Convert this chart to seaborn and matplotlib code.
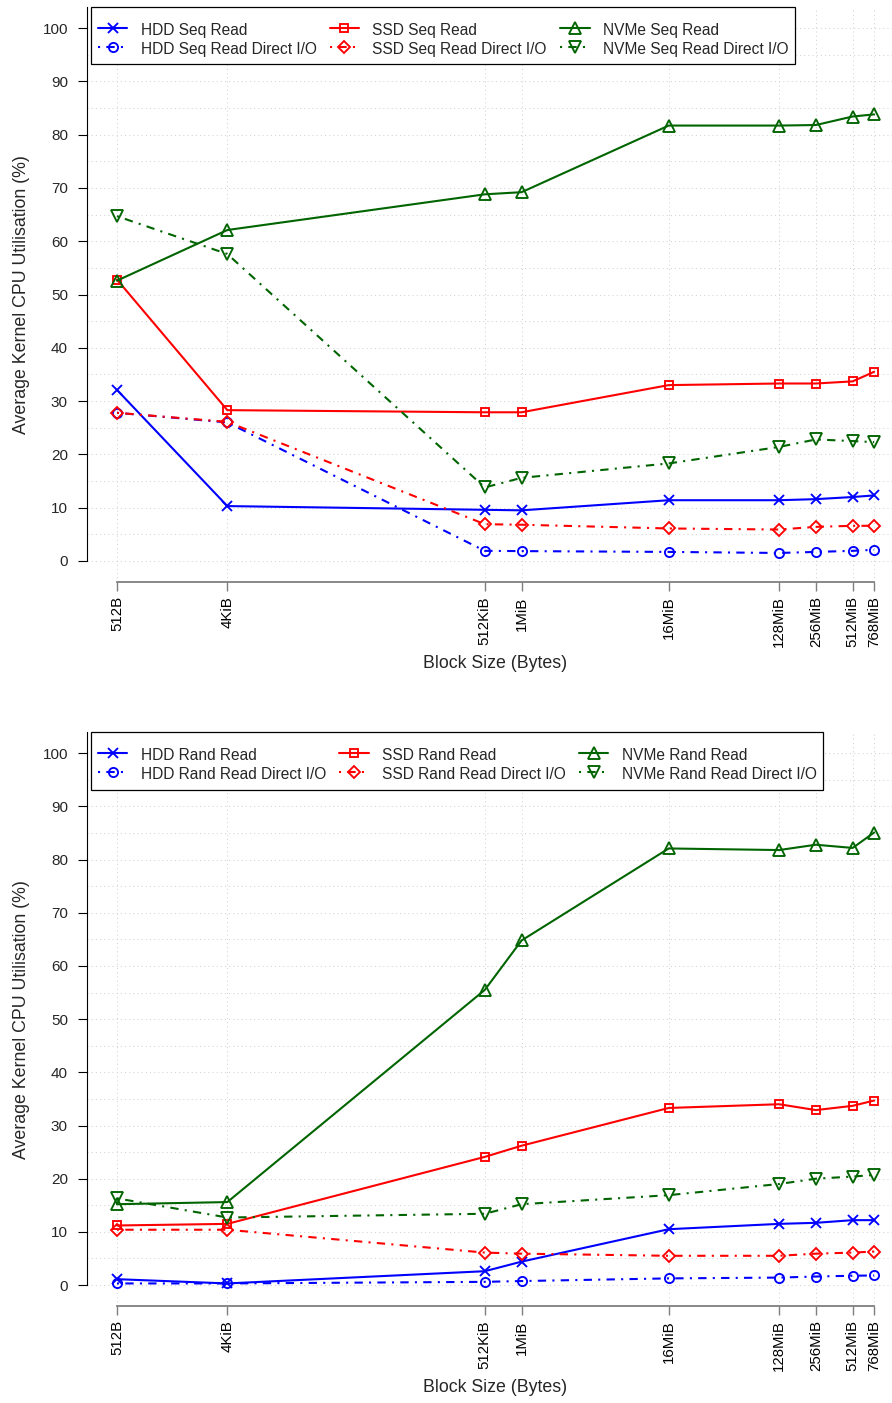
import numpy as np
import pandas as pd
import matplotlib
matplotlib.use("Agg")
import matplotlib.pyplot as plt
from matplotlib.ticker import NullLocator
import seaborn as sns

# ---------------- data ----------------
block_sizes = [512, 4096, 524288, 1048576, 16777216, 134217728,
               268435456, 536870912, 805306368]
block_labels = ["512B", "4KiB", "512KiB", "1MiB", "16MiB", "128MiB",
                "256MiB", "512MiB", "768MiB"]

hdd_seq = [32.1, 10.3, 9.6, 9.5, 11.4, 11.4, 11.6, 12.0, 12.3]
hdd_seq_direct = [27.8, 26.0, 1.9, 1.85, 1.7, 1.5, 1.7, 1.9, 2.1]
ssd_seq = [52.8, 28.3, 27.9, 27.9, 33.0, 33.3, 33.3, 33.7, 35.5]
ssd_seq_direct = [27.8, 26.1, 6.9, 6.8, 6.1, 5.9, 6.4, 6.6, 6.6]
nvme_seq = [52.6, 62.1, 68.8, 69.2, 81.7, 81.7, 81.8, 83.4, 83.8]
nvme_seq_direct = [64.7, 57.6, 13.8, 15.6, 18.3, 21.4, 22.8, 22.5, 22.3]

hdd_rand = [1.1, 0.3, 2.6, 4.4, 10.5, 11.5, 11.7, 12.2, 12.2]
hdd_rand_direct = [0.3, 0.3, 0.6, 0.75, 1.25, 1.4, 1.6, 1.75, 1.8]
ssd_rand = [11.2, 11.5, 24.1, 26.2, 33.3, 34.0, 32.9, 33.7, 34.7]
ssd_rand_direct = [10.4, 10.4, 6.1, 5.9, 5.5, 5.5, 5.9, 6.1, 6.3]
nvme_rand = [15.2, 15.6, 55.5, 64.8, 82.1, 81.8, 82.8, 82.2, 85.1]
nvme_rand_direct = [16.3, 12.7, 13.4, 15.2, 16.9, 19.0, 20.0, 20.4, 20.7]

seq_labels = ["HDD Seq Read", "HDD Seq Read Direct I/O",
              "SSD Seq Read", "SSD Seq Read Direct I/O",
              "NVMe Seq Read", "NVMe Seq Read Direct I/O"]
rand_labels = ["HDD Rand Read", "HDD Rand Read Direct I/O",
               "SSD Rand Read", "SSD Rand Read Direct I/O",
               "NVMe Rand Read", "NVMe Rand Read Direct I/O"]

y_label = "Average Kernel CPU Utilisation (%)"
x_label = "Block Size (Bytes)"

# ---------------- style ----------------
sns.set_style("white")
plt.rcParams["font.family"] = ["Liberation Sans", "DejaVu Sans"]

BLUE, RED, GREEN = "#0000FF", "#FF0000", "#006400"
DOTDASH = (0, (1, 3, 4, 3))
styles = [
    (BLUE, "x", "-", 7.0),
    (BLUE, "o", DOTDASH, 6.6),
    (RED, "s", "-", 6.4),
    (RED, "D", DOTDASH, 5.8),
    (GREEN, "^", "-", 8.0),
    (GREEN, "v", DOTDASH, 8.0),
]

fig = plt.figure(figsize=(8.92, 14.03), dpi=100)
ax_top = fig.add_axes([0.09720, 0.58497, 0.90280, 0.41024])
ax_bot = fig.add_axes([0.09720, 0.06892, 0.90280, 0.40934])


def draw_panel(ax, series, labels):
    handles = []
    for vals, (color, marker, ls, ms) in zip(series, styles):
        df = pd.DataFrame({"size": block_sizes, "value": vals})
        sns.lineplot(data=df, x="size", y="value", ax=ax, color=color,
                     marker=marker, linestyle=ls, linewidth=1.5,
                     markersize=ms, markerfacecolor="none",
                     markeredgecolor=color, markeredgewidth=1.35,
                     zorder=3)
        handles.append(ax.lines[-1])

    ax.set_xscale("log", base=2)
    ax.set_xlim(2 ** 8.177, 2 ** 30.07)
    ax.set_ylim(-4, 104)

    ax.set_xticks(block_sizes)
    ax.set_xticklabels(block_labels, rotation=90)
    ax.xaxis.set_minor_locator(NullLocator())
    ax.set_yticks(np.arange(0, 101, 10))
    ax.set_yticks(np.arange(0, 101, 5), minor=True)

    ax.tick_params(axis="y", which="major", direction="out", length=6.5,
                   width=0.8, color="black", labelsize=11, pad=7.0,
                   left=True)
    ax.tick_params(axis="y", which="minor", length=0, left=False)
    ax.tick_params(axis="x", which="major", direction="out", length=6.5,
                   width=1.0, color="#7f7f7f", labelcolor="black",
                   labelsize=10.8, pad=3.6, bottom=True)

    ax.grid(True, which="both", axis="y", color="#d3d3d3",
            linestyle=(0, (1, 3)), linewidth=0.75, zorder=0)
    ax.grid(True, which="major", axis="x", color="#d3d3d3",
            linestyle=(0, (1, 3)), linewidth=0.75, zorder=0)
    ax.set_axisbelow(True)

    for s in ("top", "right"):
        ax.spines[s].set_visible(False)
    ax.spines["left"].set_bounds(0, 104)
    ax.spines["left"].set_color("black")
    ax.spines["left"].set_linewidth(0.8)
    ax.spines["bottom"].set_bounds(block_sizes[0], block_sizes[-1])
    ax.spines["bottom"].set_color("#7f7f7f")
    ax.spines["bottom"].set_linewidth(1.3)

    ax.set_xlabel(x_label, fontsize=12.8)
    ax.set_ylabel(y_label, fontsize=12.8)
    ax.xaxis.set_label_coords(0.507, -0.141)
    ax.xaxis.label.set_verticalalignment("center")
    ax.yaxis.set_label_coords(-0.081, 0.5)
    ax.yaxis.label.set_verticalalignment("center")

    leg = ax.legend(handles, labels, ncol=3, loc="upper left",
                    bbox_to_anchor=(0.005, 1.0), borderaxespad=0,
                    fontsize=11.2, frameon=True, fancybox=False,
                    framealpha=1, edgecolor="black", handlelength=1.9,
                    handleheight=1.35, handletextpad=0.85,
                    columnspacing=0.85, labelspacing=0.12, borderpad=0.45,
                    title=" ", title_fontsize=4.5)
    leg.get_frame().set_linewidth(0.9)
    leg.set_zorder(5)


draw_panel(ax_top,
           [hdd_seq, hdd_seq_direct, ssd_seq, ssd_seq_direct,
            nvme_seq, nvme_seq_direct], seq_labels)
draw_panel(ax_bot,
           [hdd_rand, hdd_rand_direct, ssd_rand, ssd_rand_direct,
            nvme_rand, nvme_rand_direct], rand_labels)

fig.savefig("out.png", dpi=100, facecolor="white")
